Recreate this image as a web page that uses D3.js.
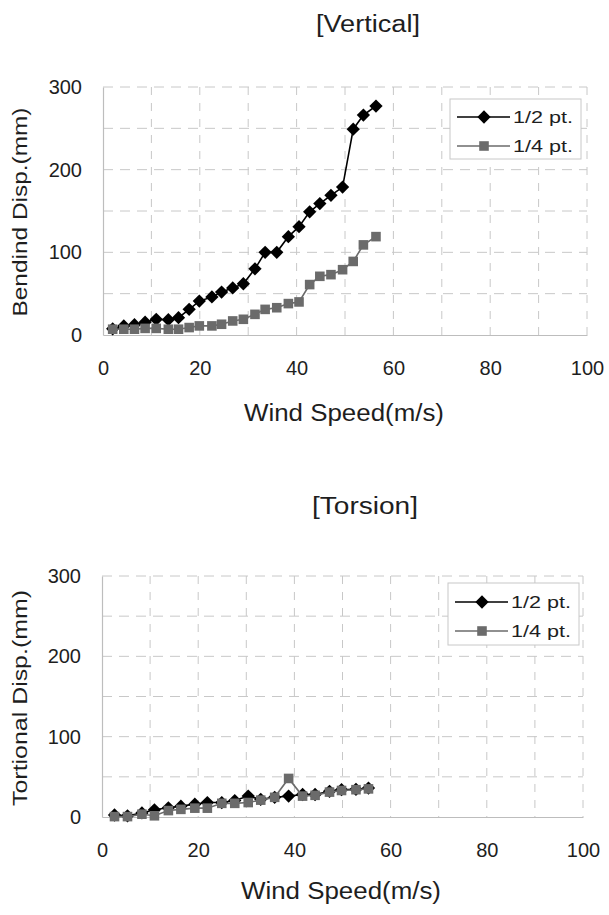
<!DOCTYPE html>
<html><head><meta charset="utf-8">
<script src="https://cdn.jsdelivr.net/npm/d3@7"></script>
<style>html,body{margin:0;padding:0;background:#fff;}svg{display:block;}</style>
</head><body>
<script>
// ---- data ----
const seriesNames = ["1/2 pt.", "1/4 pt."];
const xTicks = [0, 20, 40, 60, 80, 100];
const yTicks = [0, 100, 200, 300];

const windSpeedV = [2.0, 4.3, 6.5, 8.7, 11.0, 13.5, 15.6, 17.8, 19.9, 22.5, 24.5, 26.8, 29.0, 31.4, 33.5, 35.9, 38.3, 40.5, 42.7, 44.8, 47.1, 49.5, 51.7, 53.8, 56.4];
const vertHalf    = [7.5, 11, 12.5, 15.5, 19, 18.5, 21, 31, 41, 46, 52, 57, 62, 80, 100, 100, 119, 131, 149, 159, 169, 179, 249, 266, 277];
const vertQuarter = [7, 7, 7, 8, 8, 7, 7, 9, 11, 11, 13, 17, 19, 25, 31, 33, 38, 40, 61, 71, 73, 79, 89, 109, 119];

const windSpeedT  = [2.6, 5.3, 8.3, 10.9, 13.8, 16.4, 19.3, 21.9, 24.9, 27.6, 30.4, 33.0, 35.9, 38.8, 41.7, 44.3, 47.3, 49.8, 52.8, 55.4];
const torsHalf    = [2.5, 1.5, 5, 9, 11.5, 13.5, 16, 18, 18, 20.5, 26, 22, 24.5, 26, 28, 28, 32, 34, 34.5, 36];
const torsQuarter = [0.5, 0.5, 3.5, 1.5, 8, 9.5, 11, 11, 17, 17, 18, 21, 24.5, 48, 26, 27, 31, 33, 34, 35];

const W = 609, H = 915;
const svg = d3.select("body").append("svg").attr("width", W).attr("height", H);
const FONT = "Liberation Sans, Arial, sans-serif";
const TXT = "#1e1e1e";
const BLACK = "#000", GRAY = "#6b6b6b";

const diamondSym = d3.symbol().type(d3.symbolSquare).size(88);   // rotated 45deg
const squareSym  = d3.symbol().type(d3.symbolSquare).size(92);

function drawChart(cfg) {
  const g = svg.append("g");
  const x = d3.scaleLinear().domain([0, 100]).range([cfg.left, cfg.right]);
  const y = d3.scaleLinear().domain([0, 300]).range([cfg.bottom, cfg.top]);

  // gridlines
  const xg = d3.range(10, 101, 10), yg = d3.range(50, 301, 50);
  g.selectAll(".vg").data(xg).join("line")
    .attr("x1", d => x(d)).attr("x2", d => x(d))
    .attr("y1", cfg.top).attr("y2", cfg.bottom)
    .attr("stroke", "#c8c8c8").attr("stroke-width", 1).attr("stroke-dasharray", "8,8");
  g.selectAll(".hg").data(yg).join("line")
    .attr("x1", cfg.left).attr("x2", cfg.right)
    .attr("y1", d => y(d)).attr("y2", d => y(d))
    .attr("stroke", "#c8c8c8").attr("stroke-width", 1).attr("stroke-dasharray", "10,7");

  // axes
  const xAxis = g.append("g").attr("transform", `translate(0,${cfg.bottom})`)
    .call(d3.axisBottom(x).tickValues(xTicks).tickSize(0).tickPadding(26).tickFormat(d3.format("d")));
  const yAxis = g.append("g").attr("transform", `translate(${cfg.left},0)`)
    .call(d3.axisLeft(y).tickValues(yTicks).tickSize(0).tickPadding(21).tickFormat(d3.format("d")));
  [xAxis, yAxis].forEach(a => {
    a.select(".domain").attr("stroke", "#bdbdbd").attr("stroke-width", 1.2);
    a.selectAll("text").attr("font-family", FONT).attr("font-size", 20).attr("fill", TXT);
  });

  // lines & markers
  const line = d3.line().x(d => x(d[0])).y(d => y(d[1]));
  const s1 = cfg.xs.map((v, i) => [v, cfg.half[i]]);
  const s2 = cfg.xs.map((v, i) => [v, cfg.quarter[i]]);

  function series(data, color, sym, rot) {
    g.append("path").datum(data).attr("d", line)
      .attr("fill", "none").attr("stroke", color).attr("stroke-width", 1.6);
    g.append("g").selectAll("path").data(data).join("path")
      .attr("d", sym)
      .attr("transform", d => `translate(${x(d[0])},${y(d[1])}) rotate(${rot})`)
      .attr("fill", color);
  }
  series(s1, BLACK, diamondSym, 45);
  series(s2, GRAY, squareSym, 0);

  // titles
  g.append("text").attr("x", cfg.titleX).attr("y", cfg.titleY)
    .attr("text-anchor", "middle").attr("font-family", FONT).attr("font-size", 23)
    .attr("fill", TXT).attr("textLength", cfg.titleLen).attr("lengthAdjust", "spacingAndGlyphs")
    .text(cfg.title);
  g.append("text").attr("x", cfg.xTitleX).attr("y", cfg.xTitleY)
    .attr("text-anchor", "middle").attr("font-family", FONT).attr("font-size", 23)
    .attr("fill", TXT).attr("textLength", cfg.xTitleLen).attr("lengthAdjust", "spacingAndGlyphs")
    .text("Wind Speed(m/s)");
  g.append("text")
    .attr("transform", `translate(${cfg.yTitleX},${cfg.yTitleY}) rotate(-90)`)
    .attr("text-anchor", "middle").attr("font-family", FONT).attr("font-size", 21)
    .attr("fill", TXT).attr("textLength", cfg.yTitleLen).attr("lengthAdjust", "spacingAndGlyphs")
    .text(cfg.yTitle);

  // legend
  const lg = g.append("g");
  lg.append("rect").attr("x", cfg.legX).attr("y", cfg.legY).attr("width", 131).attr("height", cfg.legH)
    .attr("fill", "#fff").attr("stroke", "#c8c8c8").attr("stroke-width", 1);
  seriesNames.forEach((name, i) => {
    const ly = cfg.legY + cfg.legRow0 + i * cfg.legStep;
    const color = i === 0 ? BLACK : GRAY;
    lg.append("line").attr("x1", cfg.legX + 7).attr("x2", cfg.legX + 60)
      .attr("y1", ly).attr("y2", ly).attr("stroke", color).attr("stroke-width", 1.6);
    lg.append("path")
      .attr("d", i === 0 ? diamondSym() : squareSym())
      .attr("transform", `translate(${cfg.legX + 34},${ly}) rotate(${i === 0 ? 45 : 0})`)
      .attr("fill", color);
    lg.append("text").attr("x", cfg.legX + 63).attr("y", ly + 6)
      .attr("font-family", FONT).attr("font-size", 16).attr("fill", TXT)
      .attr("textLength", 60).attr("lengthAdjust", "spacingAndGlyphs").text(name);
  });
  return g;
}

drawChart({
  left: 103, right: 587, top: 87, bottom: 335,
  xs: windSpeedV, half: vertHalf, quarter: vertQuarter,
  title: "[Vertical]", titleX: 368, titleY: 32, titleLen: 104,
  xTitleX: 344, xTitleY: 421, xTitleLen: 200,
  yTitle: "Bendind Disp.(mm)", yTitleX: 27, yTitleY: 212, yTitleLen: 209,
  legX: 450, legY: 99, legH: 60, legRow0: 18, legStep: 29
});

drawChart({
  left: 102, right: 583, top: 576, bottom: 817,
  xs: windSpeedT, half: torsHalf, quarter: torsQuarter,
  title: "[Torsion]", titleX: 365, titleY: 514, titleLen: 106,
  xTitleX: 341, xTitleY: 899, xTitleLen: 200,
  yTitle: "Tortional Disp.(mm)", yTitleX: 27, yTitleY: 698, yTitleLen: 216,
  legX: 448, legY: 583, legH: 62, legRow0: 19, legStep: 29
});
</script>
</body></html>
